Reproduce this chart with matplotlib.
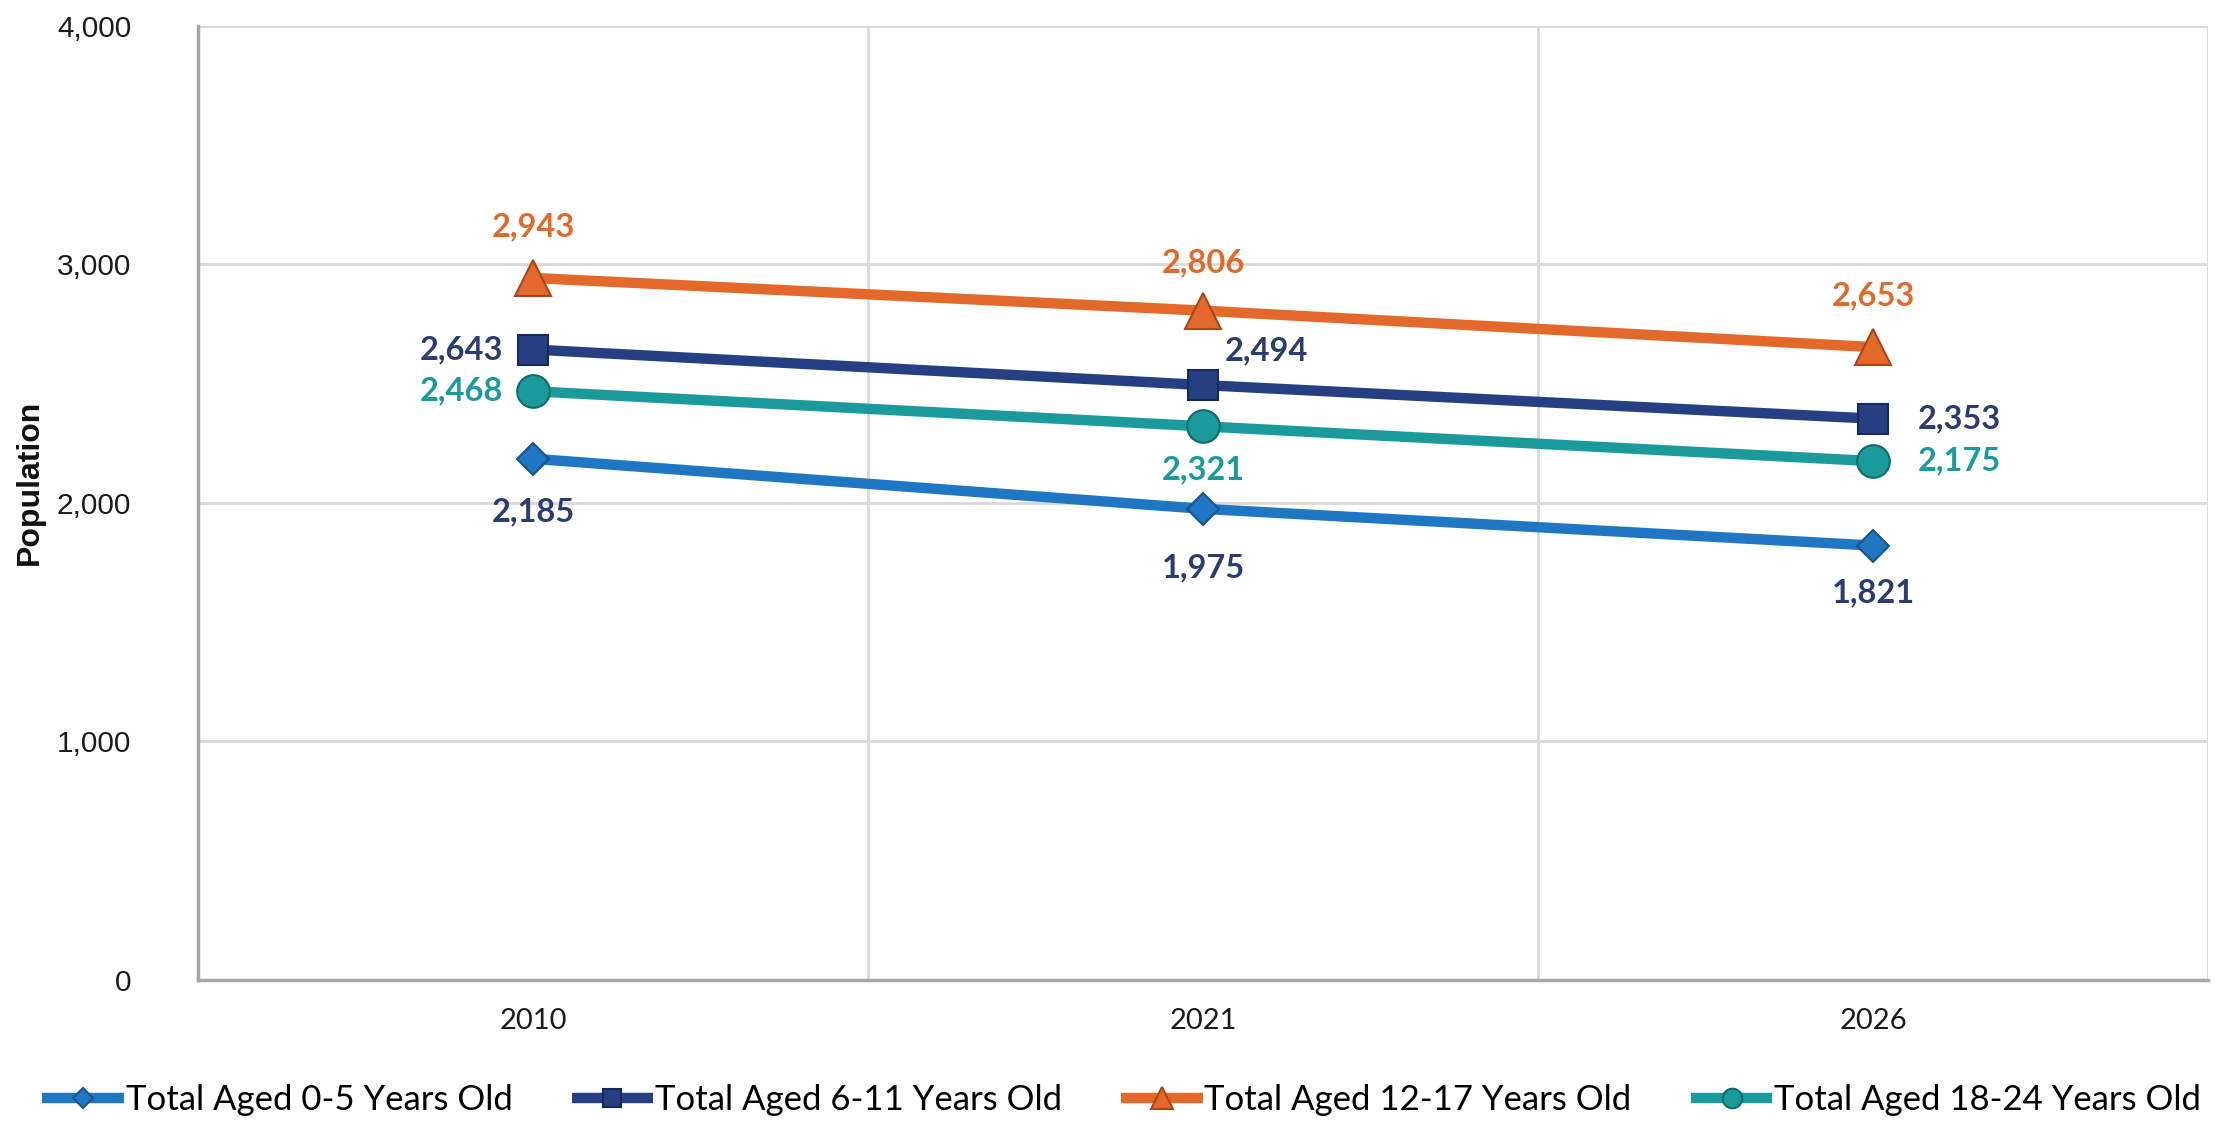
import matplotlib
matplotlib.use("Agg")
import matplotlib.pyplot as plt
from matplotlib.ticker import FuncFormatter, FixedLocator

years = ["2010", "2021", "2026"]
series_names = ["Total Aged 0-5 Years Old", "Total Aged 6-11 Years Old",
                "Total Aged 12-17 Years Old", "Total Aged 18-24 Years Old"]
aged_0_5 = [2185, 1975, 1821]
aged_6_11 = [2643, 2494, 2353]
aged_12_17 = [2943, 2806, 2653]
aged_18_24 = [2468, 2321, 2175]

# styling per series: line colour, edge colour, label colour, marker, marker size
styles = [
    ("#1F77C4", "#15548C", "#2B3D6E", "D", 16.5),
    ("#263F82", "#17285A", "#2B3D6E", "s", 21),
    ("#E2692A", "#A8461A", "#E2692A", "^", 26),
    ("#1A9A9B", "#0F6C6D", "#1A9A9B", "o", 23.5),
]
# label placement in pixels: (dx, dy, ha)
offsets = [
    [(0, -53, "center"), (0, -59, "center"), (0, -47, "center")],
    [(-30, 0, "right"), (22, 34, "left"), (45, 0, "left")],
    [(0, 51, "center"), (0, 48, "center"), (0, 51, "center")],
    [(-30, 0, "right"), (0, -43, "center"), (45, 0, "left")],
]

lato = ["Lato", "DejaVu Sans"]
arial = ["Liberation Sans", "DejaVu Sans"]

fig = plt.figure(figsize=(22.27, 11.25), dpi=100)
ax = fig.add_axes([0.0889, 0.129, 0.9026, 0.848])

x = list(range(len(years)))
data = [aged_0_5, aged_6_11, aged_12_17, aged_18_24]
handles = []
for vals, (col, edge, lcol, mk, ms), offs, name in zip(data, styles, offsets, series_names):
    h, = ax.plot(x, vals, color=col, lw=7.5, marker=mk, markersize=ms,
                 markerfacecolor=col, markeredgecolor=edge, markeredgewidth=1.5,
                 solid_capstyle="butt", label=name, zorder=3)
    handles.append(h)
    for xi, v, (dx, dy, ha) in zip(x, vals, offs):
        ax.annotate(f"{v:,}", (xi, v), xytext=(dx, dy), textcoords="offset pixels",
                    ha=ha, va="center", color=lcol, fontsize=23.5,
                    fontweight="bold", family=lato, zorder=4)

ax.set_xlim(-0.5, 2.5)
ax.set_ylim(0, 4000)
ax.set_xticks(x)
ax.set_xticklabels(years, family=lato, fontsize=21)
ax.xaxis.set_minor_locator(FixedLocator([0.5, 1.5, 2.5]))
ax.set_yticks([0, 1000, 2000, 3000, 4000])
ax.yaxis.set_major_formatter(FuncFormatter(lambda v, p: f"{int(v):,}"))
for lab in ax.get_yticklabels():
    lab.set_family(arial)
    lab.set_fontsize(21.5)
ax.tick_params(axis="both", which="both", length=0)
ax.tick_params(axis="y", pad=48, colors="#1A1A1A")
ax.tick_params(axis="x", pad=20, colors="#1A1A1A")

ax.grid(axis="y", which="major", color="#D9D9D9", lw=2)
ax.grid(axis="x", which="minor", color="#D9D9D9", lw=2)
ax.set_axisbelow(True)
for s in ["top", "right"]:
    ax.spines[s].set_visible(False)
ax.spines["left"].set_color("#A6A6A6")
ax.spines["left"].set_linewidth(2.5)
ax.spines["bottom"].set_color("#A6A6A6")
ax.spines["bottom"].set_linewidth(2.5)

ax.set_ylabel("Population", family=arial, fontsize=23, fontweight="bold",
              color="#111111")
ax.yaxis.set_label_coords(-0.076, 0.522)

fig.legend(handles=handles, loc="center left", bbox_to_anchor=(0.005, 0.022),
           ncol=4, frameon=False, prop={"family": lato, "size": 25},
           handlelength=2.35, handletextpad=0.05, columnspacing=1.7,
           markerscale=0.6)

fig.savefig("out.png", dpi=100)
